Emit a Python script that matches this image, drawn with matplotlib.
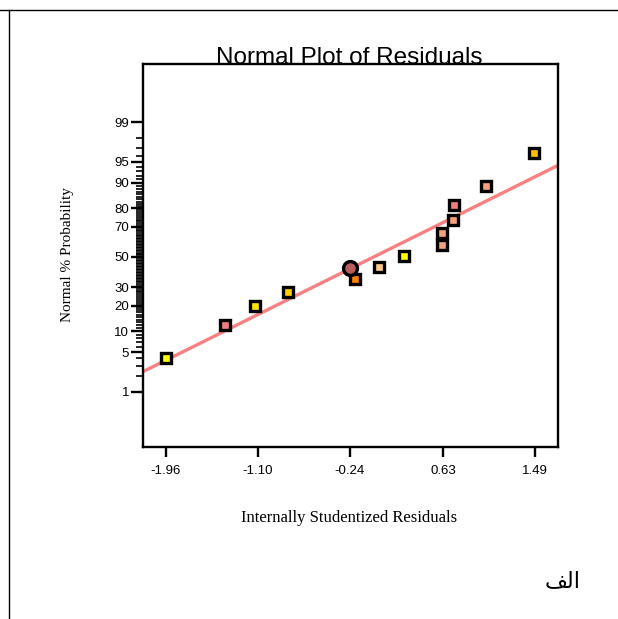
import numpy as np
import matplotlib
matplotlib.use('Agg')
import matplotlib.pyplot as plt
from matplotlib.lines import Line2D
from statistics import NormalDist

# residuals (x) and normal % probability (y)
resid = [-1.963, -1.409, -1.124, -0.823, -0.197, 0.028, 0.261, 0.621, 0.621, 0.724, 0.733, 1.032, 1.481]
prob = [4.0, 11.9, 19.8, 27.5, 35.2, 43.2, 50.7, 58.4, 66.0, 73.7, 81.4, 88.9, 96.4]
colors = ['#ffff00', '#f08080', '#ffe600', '#ffd000', '#ff8000', '#ffc890', '#ffff00',
          '#f4a07a', '#f4a07a', '#f4a07a', '#f08080', '#f4a07a', '#ffc000']

# highlighted point
sel_x = [-0.241]
sel_p = [42.3]

# reference line
fit_x = [-2.175, 1.705]
fit_p = [2.39, 94.3]

xticks = [-1.96, -1.10, -0.24, 0.63, 1.49]
yticks = [1, 5, 10, 20, 30, 50, 70, 80, 90, 95, 99]
yminor = [p for p in range(2, 99) if p not in yticks]

nd = NormalDist()


def fwd(p):
    p = np.clip(np.asarray(p, dtype=float), 1e-6, 100 - 1e-6)
    return np.vectorize(lambda v: nd.inv_cdf(v / 100.0))(p)


def inv(z):
    z = np.asarray(z, dtype=float)
    return np.vectorize(lambda v: nd.cdf(v) * 100.0)(z)


plt.rcParams['font.family'] = ['Liberation Sans', 'DejaVu Sans']

fig = plt.figure(figsize=(6.18, 6.19), dpi=100)
ax = fig.add_axes([143 / 618, 172 / 619, 415 / 618, 383 / 619])

ax.set_yscale('function', functions=(fwd, inv))
ax.set_xlim(-2.175, 1.705)
ax.set_ylim(inv(-3.28), inv(3.33))

ax.plot(fit_x, fit_p, color='#f88080', lw=2.4, solid_capstyle='butt', zorder=2)
for x, p, c in zip(resid, prob, colors):
    ax.plot(x, p, 's', ms=6.8, mfc=c, mec='black', mew=2.4, zorder=3)
ax.plot(sel_x, sel_p, 'o', ms=10, mfc='#b85c5c', mec='black', mew=2.4, zorder=4)

ax.set_xticks(xticks)
ax.set_xticklabels(['%.2f' % t for t in xticks], fontsize=9.5)
ax.set_yticks(yticks)
ax.set_yticklabels([str(t) for t in yticks], fontsize=9.5)
ax.set_yticks(yminor, minor=True)
ax.tick_params(axis='y', which='major', length=9, width=1.7, pad=1)
ax.tick_params(axis='y', which='minor', length=5, width=1.2, color='black')
ax.tick_params(axis='x', which='major', length=7, width=1.7, pad=6)
ax.tick_params(axis='x', which='minor', length=0)
for s in ax.spines.values():
    s.set_linewidth(1.7)

fig.text(349 / 618, 1 - 64 / 619, 'Normal Plot of Residuals', ha='center', va='baseline',
         fontsize=17.5)
fig.text(67 / 618, 1 - 255 / 619, 'Normal % Probability', rotation=90, ha='center',
         va='center', fontsize=11, family=['Liberation Serif', 'DejaVu Sans'])
fig.text(349 / 618, 1 - 518 / 619, 'Internally Studentized Residuals', ha='center',
         va='center', fontsize=12, family=['Liberation Serif', 'DejaVu Sans'])
# "الف" written with presentation forms in visual order
fig.text(563 / 618, 1 - 581 / 619, '\ufed2\ufedf\ufe8d', ha='center', va='center',
         fontsize=16, family=['DejaVu Sans'])

# page border lines
fig.add_artist(Line2D([0, 1], [1 - 10 / 619, 1 - 10 / 619], color='black', lw=1))
fig.add_artist(Line2D([9 / 618, 9 / 618], [0, 1 - 10 / 619], color='black', lw=1))

fig.savefig('out.png', dpi=100)
